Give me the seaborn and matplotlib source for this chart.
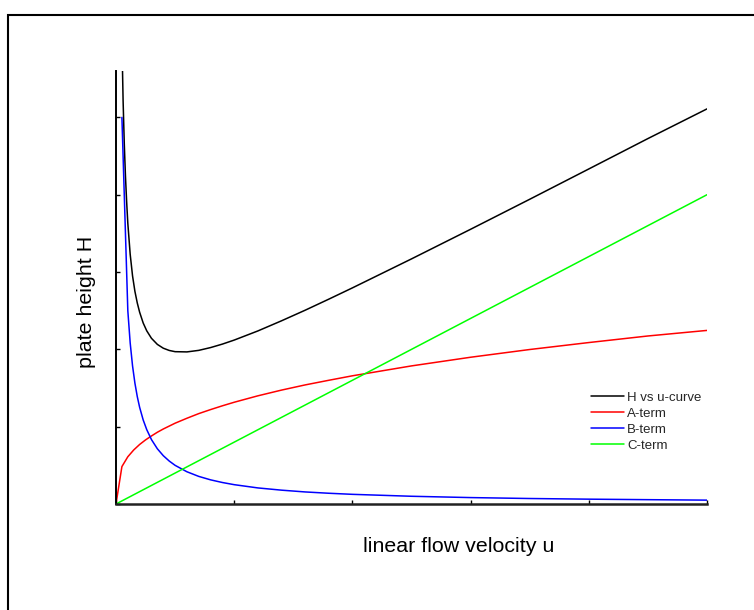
import matplotlib
matplotlib.use("Agg")
import matplotlib.pyplot as plt
import seaborn as sns
from matplotlib.patches import Rectangle

# ---- data ----
u_a = [0, 0.05, 0.1, 0.15, 0.2, 0.25, 0.3, 0.35, 0.4, 0.5, 0.6, 0.7, 0.8, 0.9,
       1.0, 1.2, 1.4, 1.6, 1.8, 2.0, 2.5, 3.0, 3.5, 4.0, 4.5, 5.0]
a_term = [0, 0.484, 0.611, 0.699, 0.770, 0.829, 0.880, 0.928, 0.970, 1.045,
          1.109, 1.169, 1.221, 1.270, 1.316, 1.399, 1.473, 1.540, 1.600,
          1.658, 1.786, 1.898, 1.998, 2.088, 2.173, 2.245]

u_b = [0.05, 0.1, 0.12, 0.14, 0.16, 0.18, 0.2, 0.23, 0.26, 0.3, 0.35, 0.4,
       0.45, 0.5, 0.6, 0.7, 0.8, 0.9, 1.0, 1.2, 1.4, 1.6, 1.8, 2.0, 2.5, 3.0,
       3.5, 4.0, 4.5, 5.0]
b_term = [5.0, 2.5, 2.083, 1.786, 1.563, 1.389, 1.25, 1.087, 0.962, 0.833,
          0.714, 0.625, 0.556, 0.5, 0.417, 0.357, 0.3125, 0.278, 0.25, 0.208,
          0.179, 0.156, 0.139, 0.125, 0.1, 0.083, 0.071, 0.0625, 0.056, 0.05]

u_h = [0.05, 0.06, 0.07, 0.08, 0.09, 0.1, 0.12, 0.14, 0.16, 0.18, 0.2, 0.23,
       0.26, 0.3, 0.35, 0.4, 0.45, 0.5, 0.6, 0.7, 0.8, 0.9, 1.0, 1.2, 1.4,
       1.6, 1.8, 2.0, 2.5, 3.0, 3.5, 4.0, 4.5, 5.0]
h_curve = [6.0, 5.22, 4.66, 4.24, 3.91, 3.63, 3.23, 2.95, 2.75, 2.60, 2.48,
           2.341, 2.24, 2.143, 2.064, 2.015, 1.986, 1.97, 1.967, 1.987, 2.023,
           2.068, 2.12, 2.238, 2.369, 2.506, 2.649, 2.795, 3.17, 3.553, 3.941,
           4.333, 4.726, 5.11]

u_c = [0, 5.0]
c_term = [0, 4.0]

labels = ["H vs u-curve", "A-term", "B-term", "C-term"]
colors = ["#000000", "#ff0000", "#0000ff", "#00ff00"]

sns.set_theme(style="white")
plt.rcParams["font.family"] = ["Liberation Sans", "DejaVu Sans"]

fig = plt.figure(figsize=(7.54, 6.10), dpi=100)
ax = fig.add_axes([116 / 754, 1 - 504 / 610, (707 - 116) / 754, (504 - 71) / 610])

lw = 1.1
sns.lineplot(x=u_h, y=h_curve, ax=ax, color=colors[0], lw=lw, label=labels[0], sort=False)
sns.lineplot(x=u_a, y=a_term, ax=ax, color=colors[1], lw=lw, label=labels[1], sort=False)
sns.lineplot(x=u_b, y=b_term, ax=ax, color=colors[2], lw=lw, label=labels[2], sort=False)
sns.lineplot(x=u_c, y=c_term, ax=ax, color=colors[3], lw=lw, label=labels[3], sort=False)

ax.set_xlim(0, 5)
ax.set_ylim(0, 5.6)
ax.set_xticks([0, 1, 2, 3, 4, 5])
ax.set_yticks([0, 1, 2, 3, 4, 5])
ax.set_xticklabels([])
ax.set_yticklabels([])
ax.tick_params(axis="both", direction="in", length=3, width=1, color="black",
               bottom=True, left=True)
for s in ["top", "right"]:
    ax.spines[s].set_visible(False)
ax.spines["left"].set_color("black")
ax.spines["left"].set_linewidth(1.4)
ax.spines["bottom"].set_color("#222222")
ax.spines["bottom"].set_linewidth(1.8)
ax.grid(False)

ax.set_xlabel("linear flow velocity u", fontsize=15.4, color="black")
ax.set_ylabel("plate height H", fontsize=15.4, color="black")
ax.xaxis.set_label_coords((459 - 116) / (707 - 116), -(547 - 504) / (504 - 71), transform=ax.transAxes)
ax.yaxis.set_label_coords(-(116 - 87) / (707 - 116), (504 - 302) / (504 - 71), transform=ax.transAxes)
ax.xaxis.label.set_va("center")
ax.yaxis.label.set_va("center")

leg = ax.legend(frameon=False, fontsize=9.5, loc="upper left",
                bbox_to_anchor=(586 / 754, 1 - 386 / 610), bbox_transform=fig.transFigure,
                handlelength=2.5, handletextpad=0.2, labelspacing=0.3, borderaxespad=0)
for line in leg.get_lines():
    line.set_linewidth(1.1)

# outer frame
fig.patches.append(Rectangle((8 / 754, -0.05), 1.2, (1 - 15 / 610) + 0.05,
                             transform=fig.transFigure, fill=False,
                             edgecolor="black", linewidth=1.5, clip_on=False))

fig.savefig("out.png", dpi=100)
